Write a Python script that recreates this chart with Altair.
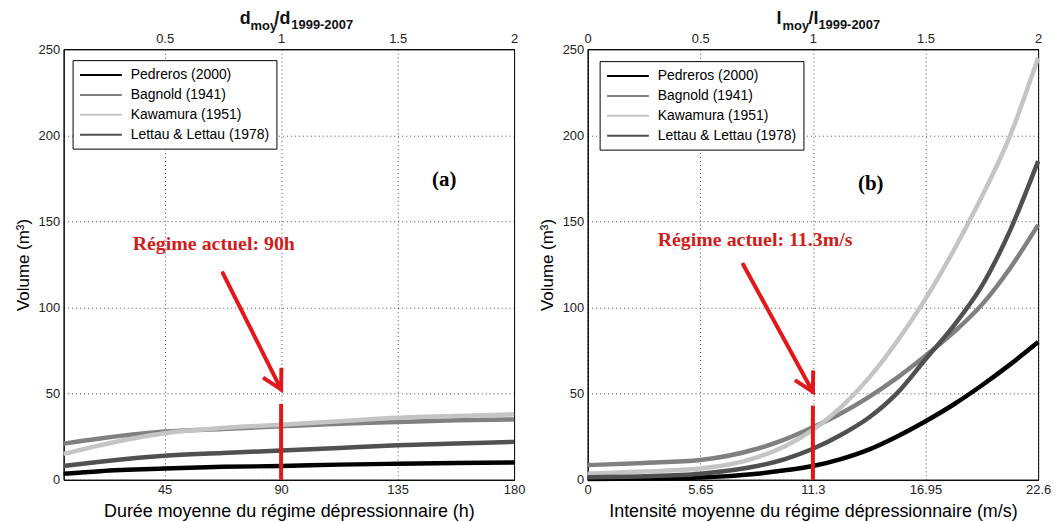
import altair as alt
import pandas as pd

SERIES = ["Pedreros (2000)", "Bagnold (1941)", "Kawamura (1951)", "Lettau & Lettau (1978)"]
COLORS = ["#000000", "#808080", "#c4c4c4", "#505050"]

# Panel (a): mean duration of the depression regime (h)
DUR_H = [6, 20, 45, 67.5, 90, 112.5, 135, 157.5, 180]
DUR_PEDREROS = [3.5, 5, 6.5, 7.5, 8, 8.8, 9.3, 9.7, 10]
DUR_BAGNOLD = [21, 24, 28, 29.5, 31, 32.5, 33.5, 34.5, 35]
DUR_KAWAMURA = [15, 20, 27, 30, 32, 34, 36, 37, 38]
DUR_LETTAU = [8, 10.5, 14, 15.5, 17, 18.5, 20, 21, 22]

# Panel (b): mean intensity of the depression regime (m/s)
INT_MS = [0, 2.83, 5.65, 8.5, 9.9, 11.3, 12.7, 14.1, 15.5, 16.95, 18.4, 19.8, 21.2, 22.6]
INT_PEDREROS = [0.5, 0.8, 1.3, 3.5, 5.5, 8, 12, 17.5, 25, 34, 44, 55, 67, 80]
INT_BAGNOLD = [8.5, 9.8, 11.5, 18, 23.5, 30.5, 38.5, 48, 59, 72, 86, 102, 123, 148]
INT_KAWAMURA = [3.5, 4.8, 6.5, 13, 19.5, 29, 42, 59, 80, 105, 134, 165, 200, 245]
INT_LETTAU = [1.5, 2, 3.5, 8, 12, 18, 26, 36, 50, 70, 90, 113, 145, 185]

DUR_TICKS = [45, 90, 135, 180]
INT_TICKS = [0, 5.65, 11.3, 16.95, 22.6]
RATIO_TICKS_A = [0.5, 1, 1.5, 2]
RATIO_TICKS_B = [0, 0.5, 1, 1.5, 2]
Y_TICKS = [0, 50, 100, 150, 200, 250]

# annotations
REF_A = 90
REF_B = 11.3
BAR_TOP_A = 44
BAR_TOP_B = 43
ARROW_A = [67.5, 120, 90, 52.5]
ARROW_B = [7.8, 125, 11.3, 51]
TEXT_A = [64, 137, "Régime actuel: 90h"]
TEXT_B = [8.4, 139, "Régime actuel: 11.3m/s"]
TAG_A = [153, 174, "(a)"]
TAG_B = [14.2, 172, "(b)"]

RED = "#e3171b"
W, H = 453, 433


def long_df(xs, cols):
    rows = []
    for name, ys in zip(SERIES, cols):
        for i, (x, y) in enumerate(zip(xs, ys)):
            rows.append({"series": name, "x": x, "v": y, "i": i})
    return pd.DataFrame(rows)


def panel(df, xdom, xticks, xtitle, rdom, rticks, ref, bartop, arrow, text, tag,
          title_parts, legx, legy):
    xs = alt.Scale(domain=xdom, nice=False, zero=False)
    ys = alt.Scale(domain=[0, 250], nice=False)
    lines = alt.Chart(df).mark_line(strokeWidth=4.5, interpolate="monotone").encode(
        x=alt.X("x:Q", scale=xs,
                axis=alt.Axis(values=xticks, title=xtitle, grid=True, labelFlush=False,
                              labelExpr="'' + datum.value", titleFontSize=18)),
        y=alt.Y("v:Q", scale=ys, axis=alt.Axis(values=Y_TICKS, title="Volume (m³)", grid=True,
                                              titleFontSize=17)),
        color=alt.Color("series:N", scale=alt.Scale(domain=SERIES, range=COLORS),
                        legend=alt.Legend(orient="none", legendX=legx, legendY=legy, title=None)),
        detail="series:N",
        order="i:Q",
    )
    bar = alt.Chart(pd.DataFrame({"x": [ref], "v": [0], "v2": [bartop]})).mark_rule(
        color=RED, strokeWidth=4).encode(x=alt.X("x:Q"), y=alt.Y("v:Q"), y2="v2:Q")
    arr_df = pd.DataFrame({"x": [arrow[0]], "v": [arrow[1]], "x2": [arrow[2]], "v2": [arrow[3]]})
    arrow_line = alt.Chart(arr_df).mark_rule(color=RED, strokeWidth=4, strokeCap="round").encode(
        x="x:Q", y="v:Q", x2="x2:Q", y2="v2:Q")
    head = alt.Chart(pd.DataFrame({"x": [arrow[2]], "v": [arrow[3]]})).mark_point(
        shape="M -0.55 -1 L 0 0 L 0.55 -1", filled=False, stroke=RED, strokeWidth=4,
        size=1444, angle=332, opacity=1, strokeJoin="miter").encode(x="x:Q", y="v:Q")
    label = alt.Chart(pd.DataFrame({"x": [text[0]], "v": [text[1]], "t": [text[2]]})).mark_text(
        font="Liberation Serif", fontWeight="bold", fontSize=20, color="#d01c1c").encode(
        x="x:Q", y="v:Q", text="t:N")
    tagm = alt.Chart(pd.DataFrame({"x": [tag[0]], "v": [tag[1]], "t": [tag[2]]})).mark_text(
        font="Liberation Serif", fontWeight="bold", fontSize=21, color="#000").encode(
        x="x:Q", y="v:Q", text="t:N")
    one = pd.DataFrame({"k": [0]})
    tparts = []
    for t, px, py, fs in title_parts:
        tparts.append(alt.Chart(one).mark_text(
            text=t, align="left", baseline="alphabetic", font="Liberation Sans",
            fontWeight="bold", fontSize=fs, color="#111").encode(
            x=alt.value(px), y=alt.value(py)))
    inner = alt.layer(lines, bar, arrow_line, head, label, tagm, *tparts)
    rdf = pd.DataFrame({"r": [rdom[0], rdom[1]]})
    top = alt.Chart(rdf).mark_point(opacity=0).encode(
        x=alt.X("r:Q", scale=alt.Scale(domain=rdom, nice=False, zero=False),
                axis=alt.Axis(orient="top", values=rticks, title=None, grid=False,
                              labelFlush=False, labelExpr="'' + datum.value")),
    )
    return alt.layer(inner, top).resolve_scale(x="independent").properties(width=W, height=H)


df_a = long_df(DUR_H, [DUR_PEDREROS, DUR_BAGNOLD, DUR_KAWAMURA, DUR_LETTAU])
df_b = long_df(INT_MS, [INT_PEDREROS, INT_BAGNOLD, INT_KAWAMURA, INT_LETTAU])

left = panel(df_a, [6, 180], DUR_TICKS, "Durée moyenne du régime dépressionnaire (h)",
             [6 / 90, 2], RATIO_TICKS_A, REF_A, BAR_TOP_A, ARROW_A, TEXT_A, TAG_A,
             [("d", 177, -25, 18), ("moy", 188, -19, 13), ("/d", 212, -25, 18), ("1999-2007", 229, -20, 13)],
             9, 11)
right = panel(df_b, [0, 22.6], INT_TICKS, "Intensité moyenne du régime dépressionnaire (m/s)",
              [0, 2], RATIO_TICKS_B, REF_B, BAR_TOP_B, ARROW_B, TEXT_B, TAG_B,
              [("I", 190, -25, 18), ("moy", 196, -19, 13), ("/I", 222, -25, 18), ("1999-2007", 232, -20, 13)],
              12, 12)

chart = alt.hconcat(left, right, spacing=11).resolve_scale(
    x="independent", y="independent", color="independent"
).resolve_legend(color="independent").properties(
    padding={"left": 13, "top": 8, "right": 10, "bottom": 2}
).configure_view(stroke="black", strokeWidth=1).configure_axis(
    labelFont="Liberation Sans", labelFontSize=13, labelColor="#222",
    titleFont="Liberation Sans", titleFontWeight="normal", titleColor="#000",
    domainColor="#000", ticks=False, labelPadding=4, titlePadding=6,
    gridColor="#000", gridDash=[1, 3], gridOpacity=0.7, gridWidth=1,
).configure_legend(
    symbolType="M -3 0 L 3 0", symbolSize=196, symbolStrokeWidth=2, symbolOffset=13.5,
    labelFont="Liberation Sans", labelFontSize=14, labelColor="#000",
    strokeColor="#000", fillColor="#fff",
    padding=7, rowPadding=5, labelOffset=22, cornerRadius=0,
)

chart.save("out.html", embed_options={"renderer": "svg", "actions": False})
